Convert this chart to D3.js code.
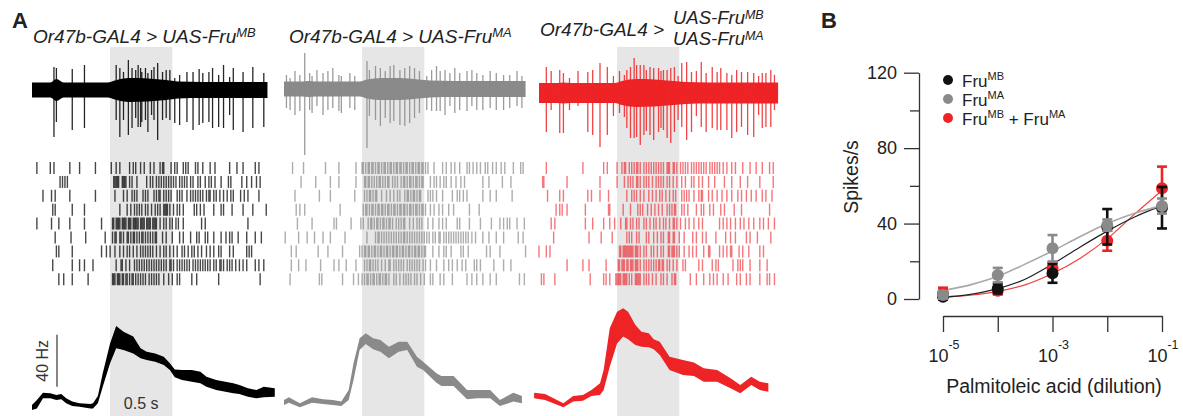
<!DOCTYPE html>
<html><head><meta charset="utf-8">
<script src="https://cdn.jsdelivr.net/npm/d3@7"></script>
<style>body{margin:0;background:#fff}svg{display:block;font-family:"Liberation Sans",Arial,sans-serif}</style>
</head><body>
<svg id="c" width="1183" height="416"></svg>
<script>
// ---------------- DATA ----------------
const stimWindow = [0.64, 1.15];          // s, odour pulse (0.5 s)
const traceEnd = [1.93, 1.98, 1.96];       // s
const panelColors = ["#000000", "#8a8a8a", "#ee2326"];

// Raw extracellular trace: noise envelope (a.u.) and spikes [t (s), up, down]
const noiseT = [0, 0.15, 0.2, 0.26, 0.62, 0.68, 0.8, 0.95, 1.1, 1.2, 1.4, 2.0];
const noise1 = [0.75, 0.75, 1.1, 0.75, 0.75, 0.95, 1.2, 1.15, 1.0, 0.85, 0.8, 0.8];
const noise2 = [0.75, 0.75, 0.8, 0.75, 0.75, 0.95, 1.1, 1.1, 0.95, 0.85, 0.8, 0.8];
const noise3 = [1.0, 1.0, 1.05, 1.0, 1.0, 1.2, 1.4, 1.35, 1.2, 1.1, 1.05, 1.05];
const spikes1 = [[0.18,2.3,4.7],[0.20,2.2,3.2],[0.33,2.1,4.0],[0.43,2.5,3.8],[0.69,2.5,3.0],[0.72,2.2,4.7],[0.75,1.8,3.0],[0.79,3.0,4.5],[0.82,2.2,3.8],[0.85,2.0,2.8],[0.87,2.5,3.7],[0.89,2.2,3.7],[0.90,1.8,3.2],[0.93,2.2,3.0],[0.95,1.7,4.2],[0.98,2.0,2.5],[1.00,2.3,3.0],[1.03,2.7,5.0],[1.07,1.8,3.0],[1.10,2.0,2.8],[1.13,2.0,3.0],[1.17,1.2,3.3],[1.21,1.5,3.5],[1.27,1.8,3.2],[1.32,1.8,4.0],[1.37,2.1,3.5],[1.40,1.7,3.3],[1.45,1.8,3.2],[1.48,2.2,3.8],[1.53,1.5,3.7],[1.57,2.5,3.8],[1.62,1.3,2.5],[1.65,2.2,4.0],[1.73,1.8,4.2],[1.81,2.3,3.8],[1.90,1.7,3.7]];
const spikes2 = [[0.02,1.4,1.9],[0.05,1.1,2.1],[0.09,1.8,2.6],[0.13,1.4,2.2],[0.17,3.6,6.6],[0.21,1.6,2.1],[0.23,1.3,2.4],[0.27,1.9,1.7],[0.32,1.6,2.6],[0.36,1.8,2.1],[0.40,2.1,1.9],[0.45,1.4,2.2],[0.47,1.3,2.4],[0.54,1.6,1.9],[0.58,1.3,2.1],[0.68,2.8,5.9],[0.70,1.9,2.7],[0.75,2.3,3.1],[0.79,2.1,3.7],[0.83,1.8,2.9],[0.87,2.3,3.4],[0.90,2.4,3.2],[0.95,1.9,3.6],[0.99,2.1,3.7],[1.03,2.3,3.4],[1.07,2.1,2.9],[1.11,1.8,2.4],[1.17,1.3,2.1],[1.21,1.9,2.2],[1.25,2.3,2.2],[1.28,1.8,2.2],[1.32,1.9,2.6],[1.36,1.6,1.7],[1.40,2.1,2.4],[1.44,1.6,2.1],[1.50,1.8,2.2],[1.54,1.9,1.7],[1.58,1.6,2.1],[1.63,1.4,2.1],[1.69,1.8,1.9],[1.74,1.6,2.1],[1.80,1.4,2.1],[1.85,1.4,1.9],[1.91,1.8,1.7],[1.95,1.3,1.9]];
const spikes3 = [[0.06,2.6,3.9],[0.10,2.2,1.7],[0.17,2.3,4.0],[0.20,2.0,4.0],[0.25,1.5,1.7],[0.32,2.2,1.3],[0.40,2.1,3.9],[0.44,2.3,4.2],[0.50,3.0,5.4],[0.56,2.6,4.2],[0.61,1.7,2.3],[0.66,2.2,2.0],[0.70,1.8,2.4],[0.72,2.3,3.5],[0.75,2.6,4.5],[0.78,3.5,4.5],[0.80,2.8,4.4],[0.83,2.8,5.2],[0.86,2.8,4.2],[0.88,2.3,3.8],[0.91,2.6,4.2],[0.94,2.5,4.7],[0.98,2.5,3.9],[1.00,2.2,3.5],[1.02,2.3,3.7],[1.05,2.3,4.5],[1.08,2.5,5.0],[1.11,2.6,3.9],[1.14,1.7,2.7],[1.17,3.0,3.4],[1.21,3.1,4.7],[1.25,2.1,3.9],[1.29,2.2,2.3],[1.33,3.1,3.4],[1.37,2.0,3.9],[1.42,2.6,3.5],[1.46,2.1,3.7],[1.49,2.5,3.7],[1.54,2.0,3.7],[1.58,1.8,4.5],[1.62,2.3,3.9],[1.66,2.1,3.4],[1.71,2.1,4.2],[1.76,2.0,4.4],[1.80,1.7,2.2],[1.83,2.0,3.5],[1.86,2.0,3.4],[1.90,2.3,3.4],[1.93,1.8,1.7]];

// Raster spike times (s), 9 trials per genotype
const raster1 = [
 [0.04,0.15,0.18,0.31,0.39,0.52,0.65,0.69,0.72,0.80,0.83,0.85,0.89,0.92,0.97,1.00,1.05,1.07,1.08,1.14,1.17,1.19,1.24,1.26,1.28,1.34,1.36,1.40,1.46,1.50,1.62,1.68,1.73,1.83,1.86],
 [0.23,0.25,0.27,0.29,0.67,0.68,0.69,0.70,0.71,0.74,0.75,0.76,0.77,0.80,0.82,0.86,0.94,0.97,0.99,1.02,1.04,1.06,1.08,1.10,1.12,1.14,1.16,1.18,1.21,1.23,1.25,1.27,1.30,1.32,1.36,1.38,1.42,1.45,1.47,1.50,1.55,1.61,1.63,1.72,1.76,1.80,1.84,1.87],
 [0.09,0.16,0.19,0.31,0.52,0.68,0.75,0.78,0.82,0.84,0.86,0.91,0.93,0.95,1.00,1.02,1.04,1.05,1.08,1.10,1.12,1.14,1.19,1.21,1.23,1.27,1.30,1.32,1.34,1.36,1.38,1.40,1.43,1.45,1.46,1.49,1.51,1.54,1.57,1.60,1.63,1.65,1.71,1.74,1.77,1.86],
 [0.17,0.19,0.33,0.43,0.72,0.78,0.81,0.84,0.86,0.88,0.90,0.93,0.95,0.98,1.01,1.03,1.05,1.08,1.09,1.10,1.11,1.13,1.16,1.19,1.21,1.24,1.33,1.35,1.38,1.41,1.49,1.55,1.57,1.64,1.73,1.81,1.92],
 [0.04,0.16,0.22,0.31,0.43,0.57,0.66,0.67,0.69,0.70,0.71,0.72,0.74,0.75,0.76,0.77,0.79,0.80,0.81,0.83,0.84,0.85,0.86,0.87,0.89,0.90,0.91,0.92,0.94,0.95,0.96,0.97,0.99,1.00,1.01,1.02,1.05,1.08,1.10,1.13,1.15,1.18,1.20,1.24,1.39,1.42,1.77],
 [0.19,0.32,0.44,0.60,0.66,0.68,0.69,0.72,0.73,0.75,0.78,0.79,0.81,0.83,0.84,0.86,0.88,0.90,0.91,0.93,0.95,0.97,0.99,1.01,1.02,1.07,1.10,1.15,1.21,1.24,1.30,1.35,1.37,1.42,1.44,1.49,1.55,1.59,1.62,1.64,1.69,1.76,1.83,1.88],
 [0.20,0.22,0.33,0.57,0.61,0.64,0.68,0.72,0.75,0.78,0.80,0.83,0.86,0.89,0.91,0.93,0.95,0.97,0.99,1.02,1.05,1.08,1.10,1.13,1.16,1.19,1.23,1.25,1.28,1.31,1.33,1.36,1.39,1.43,1.46,1.49,1.53,1.55,1.62,1.65,1.76,1.78,1.80],
 [0.17,0.33,0.39,0.43,0.50,0.69,0.73,0.74,0.77,0.80,0.84,0.86,0.88,0.90,0.92,0.94,0.96,0.98,1.00,1.02,1.04,1.06,1.08,1.10,1.13,1.14,1.16,1.19,1.21,1.23,1.25,1.27,1.29,1.32,1.34,1.36,1.38,1.40,1.42,1.44,1.46,1.49,1.51,1.54,1.55,1.57,1.60,1.62,1.64,1.67,1.70,1.73,1.76,1.83,1.86,1.90],
 [0.22,0.26,0.33,0.46,0.66,0.67,0.68,0.70,0.71,0.72,0.74,0.75,0.77,0.78,0.80,0.82,0.83,0.85,0.87,0.89,0.91,0.93,0.96,0.98,1.00,1.02,1.04,1.08,1.12,1.15,1.19,1.21,1.31,1.35,1.53,1.87]
];
const raster2 = [
 [0.07,0.16,0.34,0.45,0.59,0.64,0.65,0.67,0.69,0.70,0.72,0.73,0.75,0.77,0.78,0.80,0.82,0.83,0.85,0.87,0.88,0.90,0.92,0.93,0.95,0.96,0.98,1.00,1.01,1.03,1.05,1.06,1.08,1.10,1.11,1.13,1.14,1.16,1.18,1.23,1.30,1.33,1.37,1.40,1.44,1.50,1.52,1.55,1.58,1.61,1.65,1.67,1.71,1.74,1.78,1.81,1.88,1.94,1.96],
 [0.14,0.26,0.38,0.45,0.59,0.66,0.67,0.69,0.70,0.72,0.74,0.76,0.78,0.79,0.81,0.83,0.85,0.86,0.89,0.91,0.93,0.96,0.98,0.99,1.01,1.03,1.04,1.06,1.08,1.09,1.11,1.13,1.14,1.20,1.23,1.25,1.28,1.31,1.33,1.37,1.41,1.45,1.48,1.63,1.68,1.79,1.86],
 [0.09,0.29,0.38,0.58,0.66,0.68,0.70,0.71,0.73,0.75,0.76,0.80,0.84,0.87,0.90,0.93,0.95,0.99,1.01,1.02,1.04,1.06,1.07,1.09,1.11,1.12,1.18,1.20,1.22,1.25,1.30,1.38,1.42,1.44,1.47,1.50,1.63,1.69,1.74,1.87],
 [0.10,0.13,0.17,0.46,0.65,0.67,0.68,0.70,0.72,0.73,0.75,0.77,0.78,0.80,0.81,0.83,0.85,0.86,0.88,0.90,0.91,0.93,0.95,0.96,0.98,0.99,1.01,1.03,1.04,1.06,1.08,1.09,1.11,1.13,1.14,1.16,1.20,1.23,1.27,1.30,1.35,1.39,1.52,1.60],
 [0.11,0.23,0.41,0.43,0.55,0.63,0.65,0.69,0.71,0.72,0.74,0.76,0.77,0.79,0.81,0.82,0.84,0.86,0.87,0.89,0.92,0.94,0.96,0.98,0.99,1.03,1.06,1.09,1.11,1.13,1.18,1.22,1.27,1.30,1.33,1.42,1.44,1.52,1.61,1.70,1.77,1.80,1.83,1.85,1.91,1.97],
 [0.01,0.12,0.19,0.25,0.32,0.38,0.50,0.68,0.75,0.77,0.78,0.80,0.82,0.84,0.86,0.88,0.90,0.92,0.94,0.96,0.98,0.99,1.01,1.03,1.05,1.07,1.09,1.11,1.13,1.15,1.17,1.19,1.22,1.24,1.27,1.28,1.31,1.33,1.35,1.37,1.39,1.41,1.43,1.45,1.47,1.49,1.51,1.54,1.57,1.63,1.68,1.74,1.80,1.92,1.96],
 [0.06,0.10,0.28,0.36,0.48,0.62,0.64,0.66,0.67,0.69,0.70,0.72,0.74,0.75,0.77,0.79,0.80,0.82,0.84,0.85,0.87,0.89,0.90,0.92,0.93,0.95,0.97,0.98,1.00,1.02,1.03,1.05,1.07,1.08,1.10,1.11,1.13,1.15,1.16,1.22,1.27,1.31,1.33,1.37,1.45,1.47,1.51,1.66,1.69,1.77,1.98],
 [0.06,0.12,0.18,0.30,0.41,0.45,0.51,0.59,0.66,0.68,0.70,0.71,0.73,0.75,0.77,0.80,0.83,0.86,0.87,0.90,0.92,0.94,0.96,0.98,1.01,1.03,1.05,1.07,1.09,1.11,1.14,1.16,1.20,1.25,1.31,1.35,1.38,1.42,1.46,1.49,1.56,1.58,1.61,1.72,1.80,1.86],
 [0.05,0.29,0.31,0.48,0.57,0.61,0.64,0.66,0.68,0.69,0.71,0.73,0.74,0.76,0.78,0.79,0.81,0.83,0.84,0.86,0.90,0.92,0.95,0.98,1.00,1.02,1.04,1.07,1.09,1.12,1.15,1.20,1.22,1.28,1.31,1.38,1.50,1.54,1.58,1.63,1.69,1.74,1.93,1.97]
];
const raster3 = [
 [0.06,0.36,0.53,0.56,0.64,0.68,0.70,0.71,0.74,0.76,0.78,0.80,0.81,0.83,0.86,0.88,0.90,0.92,0.94,0.96,0.98,1.00,1.02,1.05,1.06,1.07,1.10,1.11,1.13,1.16,1.18,1.20,1.22,1.25,1.27,1.29,1.31,1.33,1.35,1.37,1.40,1.42,1.44,1.46,1.48,1.51,1.54,1.58,1.61,1.67,1.73,1.78,1.83,1.89,1.92],
 [0.03,0.04,0.23,0.50,0.64,0.70,0.73,0.75,0.77,0.80,0.81,0.83,0.86,0.88,0.90,0.93,0.96,0.98,1.00,1.02,1.05,1.07,1.10,1.13,1.17,1.20,1.25,1.27,1.31,1.34,1.39,1.44,1.52,1.58,1.65,1.71,1.81,1.92],
 [0.07,0.17,0.20,0.40,0.43,0.50,0.57,0.72,0.76,0.78,0.80,0.83,0.86,0.90,0.93,0.96,0.99,1.01,1.04,1.07,1.10,1.12,1.17,1.19,1.21,1.23,1.27,1.31,1.33,1.34,1.39,1.42,1.46,1.50,1.54,1.58,1.63,1.66,1.70,1.74,1.78,1.83,1.86,1.91],
 [0.14,0.17,0.19,0.23,0.38,0.57,0.58,0.69,0.75,0.81,0.83,0.85,0.89,0.92,0.95,0.98,1.01,1.05,1.07,1.09,1.11,1.12,1.17,1.19,1.22,1.29,1.33,1.35,1.40,1.43,1.49,1.52,1.60,1.66,1.89],
 [0.10,0.13,0.38,0.44,0.53,0.58,0.62,0.67,0.71,0.72,0.75,0.77,0.80,0.82,0.86,0.88,0.91,0.94,0.96,0.99,1.02,1.04,1.07,1.10,1.11,1.13,1.16,1.20,1.23,1.27,1.31,1.34,1.48,1.51,1.54,1.57,1.61,1.65,1.68,1.72,1.76,1.81,1.84,1.88,1.93],
 [0.12,0.41,0.51,0.60,0.72,0.74,0.76,0.80,0.82,0.88,0.90,0.94,0.97,1.00,1.02,1.06,1.07,1.10,1.11,1.15,1.19,1.26,1.29,1.34,1.37,1.45,1.53,1.57,1.61,1.70,1.73,1.79,1.90],
 [0.00,0.06,0.09,0.66,0.67,0.69,0.70,0.71,0.72,0.73,0.74,0.75,0.76,0.77,0.79,0.80,0.81,0.83,0.86,0.88,0.92,0.94,0.97,1.00,1.02,1.06,1.07,1.09,1.10,1.11,1.13,1.15,1.19,1.23,1.26,1.29,1.35,1.39,1.40,1.48,1.51,1.54,1.57,1.58,1.64,1.67,1.72,1.81,1.84],
 [0.23,0.36,0.41,0.55,0.65,0.66,0.68,0.69,0.70,0.72,0.73,0.75,0.76,0.77,0.79,0.80,0.81,0.83,0.86,0.88,0.90,0.92,0.94,0.96,0.98,0.99,1.01,1.02,1.05,1.07,1.10,1.13,1.18,1.20,1.31,1.34,1.42,1.45,1.47,1.59,1.63,1.65,1.67,1.73,1.81,1.87],
 [0.02,0.04,0.13,0.42,0.53,0.55,0.58,0.63,0.64,0.65,0.66,0.67,0.69,0.70,0.71,0.72,0.74,0.76,0.79,0.80,0.81,0.82,0.83,0.86,0.88,0.90,0.93,0.96,1.00,1.02,1.05,1.09,1.11,1.12,1.24,1.29,1.35,1.40,1.43,1.46,1.51,1.55,1.62,1.65,1.70,1.73,1.81,1.87,1.89,1.93]
];

// Firing-rate (PSTH) bands: time (s), upper and lower edge (Hz)
const psth1T  = [0.00,0.04,0.09,0.15,0.20,0.24,0.28,0.33,0.39,0.48,0.50,0.54,0.58,0.64,0.69,0.75,0.83,0.89,0.94,1.01,1.08,1.13,1.17,1.23,1.31,1.38,1.43,1.51,1.65,1.70,1.77,1.84,1.90,1.99];
const psth1Hi = [10.0,13.8,19.5,19.0,17.7,18.5,15.1,12.6,11.3,10.8,11.3,16.9,34.4,57.4,70.8,66.4,62.6,53.6,51.0,49.7,47.2,42.1,37.4,36.9,36.9,35.6,31.8,29.2,26.7,25.4,22.8,21.5,24.1,22.8];
const psth1Lo = [6.2,7.4,15.1,15.1,13.8,14.4,11.3,9.2,8.7,7.4,7.4,11.3,24.1,42.1,53.6,52.3,49.7,45.9,44.6,43.3,40.8,36.9,31.3,29.2,27.9,26.7,24.1,21.5,19.0,18.5,16.4,15.1,15.9,16.4];
const psth2T  = [0.00,0.04,0.13,0.23,0.32,0.40,0.47,0.53,0.57,0.62,0.67,0.73,0.79,0.86,0.94,1.01,1.09,1.14,1.25,1.29,1.39,1.50,1.58,1.69,1.77,1.88,1.95];
const psth2Hi = [13.8,15.9,11.3,15.9,14.4,13.8,12.6,21.5,42.1,61.3,65.1,61.3,60.0,54.8,58.7,58.7,47.2,43.3,34.4,32.3,32.3,21.5,21.5,21.5,13.8,19.5,16.9];
const psth2Lo = [10.0,11.8,8.2,11.8,10.8,10.0,9.2,13.8,29.2,52.3,56.9,52.8,51.0,45.9,51.0,52.3,39.5,36.9,27.2,24.6,24.6,14.4,15.1,15.1,9.2,12.6,11.3];
const psth3T  = [-0.04,0.05,0.20,0.28,0.36,0.43,0.50,0.53,0.58,0.64,0.69,0.73,0.79,0.84,0.90,0.94,0.99,1.07,1.18,1.27,1.35,1.46,1.57,1.65,1.74,1.81,1.88];
const psth3Hi = [19.5,18.5,11.3,16.9,17.7,21.5,26.7,36.9,69.0,81.8,84.4,81.8,71.5,66.4,65.1,60.5,58.7,47.2,44.6,42.6,38.2,36.9,30.5,25.4,31.8,27.9,26.7];
const psth3Lo = [15.1,13.8,8.2,12.6,13.3,16.9,17.7,21.5,39.5,57.4,62.6,60.5,56.2,54.8,54.4,52.8,48.5,36.9,33.1,32.3,27.9,27.9,22.8,19.0,25.4,21.5,20.2];

// Panel B: dose-response
const doses   = [1e-5, 1e-4, 1e-3, 1e-2, 1e-1];
const doseExp = ["-5", "", "-3", "", "-1"];   // tick labels (10^x), blank = unlabeled
const mbMean  = [1.2, 5.5, 13.6, 38.3, 48.4];
const mbErr   = [1.5, 2.5, 5.0, 9.4, 11.0];
const maMean  = [2.1, 12.7, 26.9, 39.2, 49.3];
const maErr   = [2.0, 3.8, 7.0, 3.0, 4.0];
const bothMean= [3.0, 4.4, 16.3, 30.9, 58.7];
const bothErr = [3.0, 2.0, 3.0, 5.3, 11.5];
const fitLog  = [-5, -4.5, -4, -3.5, -3, -2.5, -2, -1.5, -1];
const mbFit   = [1.0, 2.5, 5.5, 10.5, 18.5, 27.5, 36.0, 43.5, 49.5];
const maFit   = [4.5, 7.5, 12.0, 18.5, 25.5, 33.0, 40.0, 45.5, 49.5];
const bothFit = [1.0, 2.0, 4.0, 7.5, 13.5, 21.5, 32.0, 45.0, 57.5];
const yTicksB = [0, 40, 80, 120];
const yMinorB = [20, 60, 100];

// ---------------- DRAW ----------------
const svg = d3.select("#c");
const ink = "#222";

function addSegs(t, segs, supSize, raise) {
  let up = false;
  segs.forEach(([s, sup]) => {
    const ts = t.append("tspan").text(s);
    if (sup) { ts.attr("font-size", supSize); if (!up) { ts.attr("dy", -raise); up = true; } }
    else if (up) { ts.attr("dy", raise); up = false; }
  });
}
function rich(parent, x, y, segs, size, supSize, raise, anchor) {
  const t = parent.append("text").attr("x", x).attr("y", y).attr("font-size", size).attr("fill", ink);
  if (anchor) t.attr("text-anchor", anchor);
  addSegs(t, segs, supSize, raise);
  return t;
}

svg.append("text").attr("x", 12).attr("y", 28).attr("font-size", 22).attr("font-weight", "bold").attr("fill", ink).text("A");
svg.append("text").attr("x", 821).attr("y", 28).attr("font-size", 22).attr("font-weight", "bold").attr("fill", ink).text("B");

const panelX0 = [32, 284, 539];
const traceY = [90, 89, 93];
const noises = [noise1, noise2, noise3];
const spikesAll = [spikes1, spikes2, spikes3];
const rasters = [raster1, raster2, raster3];
const psthT = [psth1T, psth2T, psth3T], psthHi = [psth1Hi, psth2Hi, psth3Hi], psthLo = [psth1Lo, psth2Lo, psth3Lo];
const rasterOpacity = [0.72, 0.6, 0.6];
const rasterColor = ["#000", "#777", "#ee1c24"];

const yRow = d3.scaleLinear().domain([0, 8]).range([162, 273.2]);
const yHz = d3.scaleLinear().domain([0, 40]).range([418, 366]);

panelX0.forEach((x0, i) => {
  const g = svg.append("g");
  const xs = d3.scaleLinear().domain([0, 2]).range([x0, x0 + 244]);
  const col = panelColors[i];
  g.append("rect").attr("x", xs(stimWindow[0])).attr("y", 47)
    .attr("width", xs(stimWindow[1]) - xs(stimWindow[0])).attr("height", 369).attr("fill", "#e6e6e6");
  const yv = d3.scaleLinear().domain([-1, 1]).range([traceY[i] + 10, traceY[i] - 10]);
  const env = noiseT.map((t, j) => [Math.min(t, traceEnd[i]), noises[i][j]]);
  g.append("path").datum(env).attr("fill", col)
    .attr("d", d3.area().x(d => xs(d[0])).y0(d => yv(-d[1])).y1(d => yv(d[1])).curve(d3.curveMonotoneX));
  g.selectAll(null).data(spikesAll[i]).join("line")
    .attr("x1", d => xs(d[0])).attr("x2", d => xs(d[0]))
    .attr("y1", d => yv(d[1])).attr("y2", d => yv(-d[2]))
    .attr("stroke", col).attr("stroke-opacity", 0.85).attr("stroke-width", 1.3);
  rasters[i].forEach((row, r) => {
    g.selectAll(null).data(row).join("line")
      .attr("x1", d => xs(d)).attr("x2", d => xs(d))
      .attr("y1", yRow(r)).attr("y2", yRow(r) + 12)
      .attr("stroke", rasterColor[i]).attr("stroke-opacity", rasterOpacity[i]).attr("stroke-width", 1.4);
  });
  const band = psthT[i].map((t, j) => [t, psthHi[i][j], psthLo[i][j]]);
  g.append("path").datum(band).attr("fill", col)
    .attr("d", d3.area().x(d => xs(d[0])).y0(d => yHz(d[2])).y1(d => yHz(d[1])));
});

// Titles
const tg = svg.append("g").attr("font-style", "italic");
rich(tg, 33, 43, [["Or47b-GAL4 > UAS-Fru", false], ["MB", true]], 19, 13, 6);
rich(tg, 289, 43, [["Or47b-GAL4 > UAS-Fru", false], ["MA", true]], 19, 13, 6);
rich(tg, 540, 36, [["Or47b-GAL4 >", false]], 19, 13, 6);
rich(tg, 673, 24, [["UAS-Fru", false], ["MB", true]], 18.5, 12.5, 5);
rich(tg, 673, 45, [["UAS-Fru", false], ["MA", true]], 18.5, 12.5, 5);

// scale bars
svg.append("line").attr("x1", 57).attr("x2", 57).attr("y1", yHz(24)).attr("y2", yHz(64)).attr("stroke", "#333").attr("stroke-width", 1.2);
svg.append("text").attr("transform", `translate(48,${(yHz(24) + yHz(64)) / 2}) rotate(-90)`)
  .attr("text-anchor", "middle").attr("font-size", 16).attr("fill", "#333").text("40 Hz");
{
  const xs = d3.scaleLinear().domain([0, 2]).range([panelX0[0], panelX0[0] + 244]);
  svg.append("text").attr("x", (xs(stimWindow[0]) + xs(stimWindow[1])) / 2).attr("y", 409)
    .attr("text-anchor", "middle").attr("font-size", 16).attr("fill", "#333").text("0.5 s");
}

// ---------------- Panel B ----------------
const xB = d3.scaleLog().domain([1e-5, 1e-1]).range([943, 1162]);
const yB = d3.scaleLinear().domain([0, 120]).range([299, 72.7]);
const axCol = "#333";

const gy = svg.append("g").attr("transform", "translate(919,0)");
gy.call(d3.axisLeft(yB).tickValues(yTicksB).tickSize(15).tickSizeOuter(0).tickPadding(7));
gy.append("g").call(d3.axisLeft(yB).tickValues(yMinorB).tickSize(9).tickFormat("")).select(".domain").remove();
gy.selectAll("path,line").attr("stroke", axCol).attr("stroke-width", 1.3);
gy.selectAll("text").attr("font-size", 18).attr("fill", ink).attr("font-family", "Liberation Sans, Arial, sans-serif");

const gx = svg.append("g").attr("transform", "translate(0,316)");
gx.call(d3.axisBottom(xB).tickValues(doses).tickSize(16).tickSizeOuter(0).tickFormat(""));
gx.selectAll("path,line").attr("stroke", axCol).attr("stroke-width", 1.3);
doses.forEach((d, j) => {
  if (doseExp[j]) rich(svg, xB(d) + 1, 362, [["10", false], [doseExp[j], true]], 18, 12.5, 13, "middle");
});

svg.append("text").attr("transform", "translate(858,177) rotate(-90)").attr("text-anchor", "middle")
  .attr("font-size", 19.5).attr("fill", ink).text("Spikes/s");
svg.append("text").attr("x", 1054).attr("y", 393).attr("text-anchor", "middle")
  .attr("font-size", 19.5).attr("fill", ink).text("Palmitoleic acid (dilution)");

const fitLine = d3.line().x(d => xB(Math.pow(10, d[0]))).y(d => yB(d[1])).curve(d3.curveMonotoneX);
const fits = [[bothFit, "#f04040", 1.2], [mbFit, "#222", 1.2], [maFit, "#a8a8a8", 1.6]];
fits.forEach(([f, c, w]) => {
  svg.append("path").datum(fitLog.map((l, j) => [l, f[j]])).attr("d", fitLine)
    .attr("fill", "none").attr("stroke", c).attr("stroke-width", w);
});

const seriesB = [[bothMean, bothErr, "#ee2326"], [mbMean, mbErr, "#111"], [maMean, maErr, "#8a8a8a"]];
seriesB.forEach(([m, e, c]) => {
  const g = svg.append("g");
  doses.forEach((d, j) => {
    const x = xB(d);
    g.append("line").attr("x1", x).attr("x2", x).attr("y1", yB(m[j] - e[j])).attr("y2", yB(m[j] + e[j]))
      .attr("stroke", c).attr("stroke-width", 2.6);
    [m[j] - e[j], m[j] + e[j]].forEach(v => g.append("line").attr("x1", x - 5).attr("x2", x + 5)
      .attr("y1", yB(v)).attr("y2", yB(v)).attr("stroke", c).attr("stroke-width", 2.6));
    g.append("circle").attr("cx", x).attr("cy", yB(m[j])).attr("r", 6).attr("fill", c);
  });
});

const legend = [["#111", [["Fru", false], ["MB", true]]], ["#8a8a8a", [["Fru", false], ["MA", true]]],
  ["#ee2326", [["Fru", false], ["MB", true], [" + Fru", false], ["MA", true]]]];
legend.forEach(([c, segs], k) => {
  const y = 80 + k * 19;
  svg.append("circle").attr("cx", 948).attr("cy", y).attr("r", 5).attr("fill", c);
  rich(svg, 962, y + 6.5, segs, 17, 11, 7);
});
</script>
</body></html>
